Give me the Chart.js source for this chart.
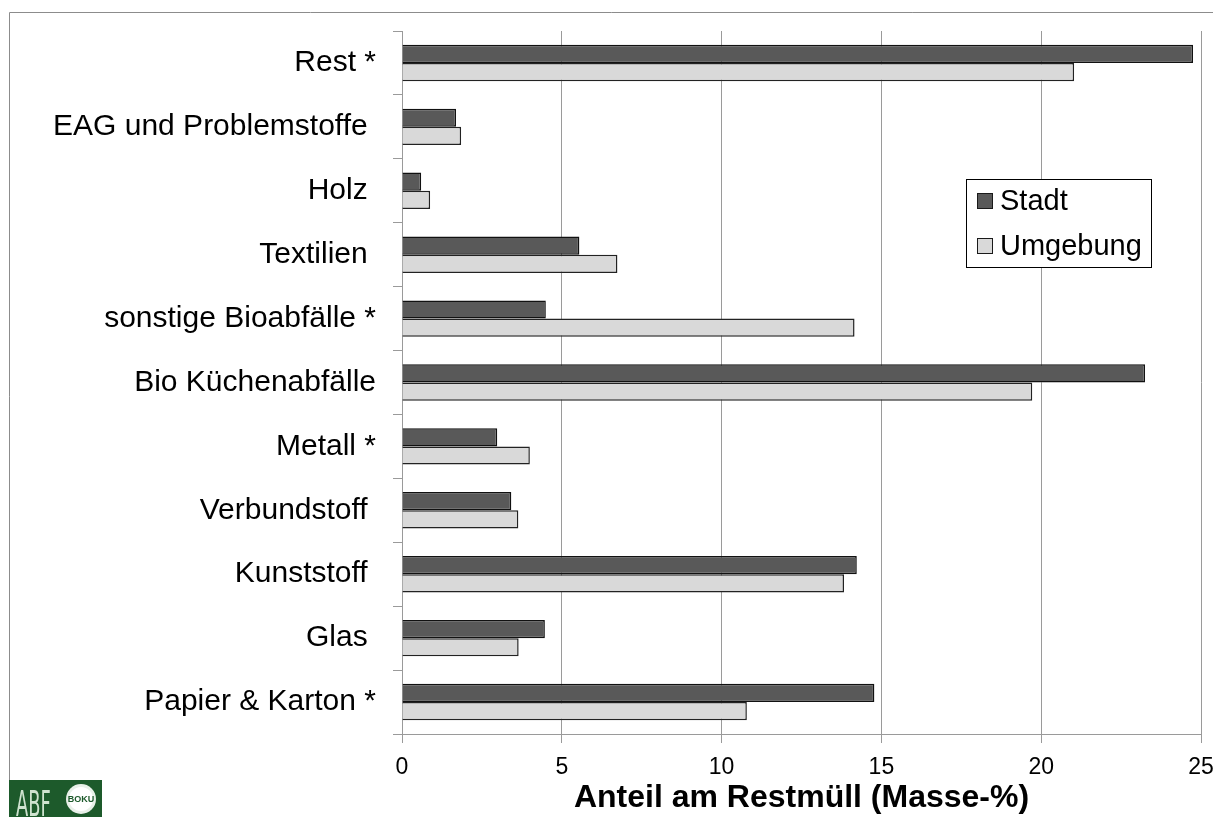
<!DOCTYPE html>
<html lang="de">
<head>
<meta charset="utf-8">
<title>Anteil am Restmüll</title>
<script src="https://cdn.jsdelivr.net/npm/chart.js@4.4.1/dist/chart.umd.min.js"></script>
<style>
    html, body { margin: 0; padding: 0; background: #ffffff; }
    #wrap { width: 1213px; height: 817px; }
</style>
</head>
<body>
<div id="wrap"><canvas id="chartRestmuell" width="1213" height="817"></canvas></div>
<script>
// ===== Daten =====
const kategorien = [
    'Rest *',
    'EAG und Problemstoffe ',
    'Holz ',
    'Textilien ',
    'sonstige Bioabfälle *',
    'Bio Küchenabfälle',
    'Metall *',
    'Verbundstoff ',
    'Kunststoff ',
    'Glas ',
    'Papier & Karton *'
];
const werteStadt    = [24.75, 1.69, 0.6, 5.55, 4.5, 23.25, 2.98, 3.42, 14.23, 4.47, 14.78];
const werteUmgebung = [21.03, 1.85, 0.88, 6.74, 14.16, 19.72, 4.0, 3.64, 13.83, 3.65, 10.79];
const serienNamen   = ['Stadt', 'Umgebung'];
const achsenTitel   = 'Anteil am Restmüll (Masse-%)';
const xTicks        = [0, 5, 10, 15, 20, 25];

const SCHRIFT = '"Liberation Sans", Arial, sans-serif';
const GRAU = '#9a9a9a';

let chartRestmuell;

// Rahmen, Legende und Logo zeichnen
const extrasPlugin = {
    id: 'extras',
    afterDraw(chart) {
        const ctx = chart.ctx;
        ctx.save();

        // Rahmen links und oben
        ctx.strokeStyle = '#8c8c8c';
        ctx.lineWidth = 1;
        ctx.beginPath();
        ctx.moveTo(9.5, 780);
        ctx.lineTo(9.5, 12.5);
        ctx.lineTo(1213, 12.5);
        ctx.stroke();

        // Legende
        const lx = 966.5, ly = 179.5, lw = 185, lh = 88;
        ctx.fillStyle = '#ffffff';
        ctx.fillRect(lx, ly, lw, lh);
        ctx.strokeStyle = '#000000';
        ctx.strokeRect(lx, ly, lw, lh);
        const zeilen = [201, 246];
        chart.data.datasets.forEach(function(ds, i) {
            const cy = zeilen[i];
            ctx.fillStyle = ds.backgroundColor;
            ctx.fillRect(977, cy - 8, 15, 15);
            ctx.strokeStyle = '#1a1a1a';
            ctx.strokeRect(977.5, cy - 7.5, 15, 15);
            ctx.fillStyle = '#000000';
            ctx.font = '29px ' + SCHRIFT;
            ctx.textAlign = 'left';
            ctx.textBaseline = 'middle';
            ctx.fillText(ds.label, 1000, cy + 1);
        });

        // Logo unten links
        ctx.fillStyle = '#1d5a2b';
        ctx.fillRect(9, 780, 93, 37);
        ctx.fillStyle = '#cfe3cf';
        ctx.font = '36px "DejaVu Sans Condensed", ' + SCHRIFT;
        ctx.textAlign = 'left';
        ctx.textBaseline = 'alphabetic';
        ctx.save();
        ctx.translate(16, 816);
        ctx.scale(0.55, 1);
        ctx.fillText('ABF', 0, 0);
        ctx.restore();
        ctx.beginPath();
        ctx.arc(81, 799, 15, 0, Math.PI * 2);
        ctx.fillStyle = '#e8f0e8';
        ctx.fill();
        ctx.beginPath();
        ctx.arc(81, 799, 12, 0, Math.PI * 2);
        ctx.fillStyle = '#ffffff';
        ctx.fill();
        ctx.fillStyle = '#1d5a2b';
        ctx.font = 'bold 9px ' + SCHRIFT;
        ctx.textAlign = 'center';
        ctx.textBaseline = 'middle';
        ctx.fillText('BOKU', 81, 800);

        ctx.restore();
    }
};

function inicializarGrafico() {
    const ctx = document.getElementById('chartRestmuell');
    chartRestmuell = new Chart(ctx, {
        type: 'bar',
        data: {
            labels: kategorien,
            datasets: [{
                label: serienNamen[0],
                data: werteStadt,
                backgroundColor: '#595959',
                borderColor: '#111111',
                borderWidth: 1.5,
                barPercentage: 1.0,
                categoryPercentage: 0.57
            }, {
                label: serienNamen[1],
                data: werteUmgebung,
                backgroundColor: '#d9d9d9',
                borderColor: '#222222',
                borderWidth: 1.5,
                barPercentage: 1.0,
                categoryPercentage: 0.57
            }]
        },
        options: {
            indexAxis: 'y',
            responsive: false,
            animation: false,
            layout: {
                padding: { left: 0, top: 31, right: 12, bottom: 0 }
            },
            plugins: {
                legend: { display: false },
                tooltip: { enabled: false }
            },
            scales: {
                x: {
                    min: xTicks[0],
                    max: xTicks[xTicks.length - 1],
                    afterBuildTicks: function(scale) {
                        scale.ticks = xTicks.map(function(v) { return { value: v }; });
                    },
                    afterFit: function(scale) {
                        scale.height = 83;
                        scale.paddingLeft = 0;
                        scale.paddingRight = 0;
                    },
                    grid: {
                        color: GRAU,
                        lineWidth: 1,
                        tickLength: 9,
                        drawOnChartArea: true
                    },
                    border: { color: GRAU, width: 1 },
                    ticks: {
                        color: '#000000',
                        padding: 11,
                        font: { family: SCHRIFT, size: 23 }
                    },
                    title: {
                        display: true,
                        text: achsenTitel,
                        color: '#000000',
                        padding: { top: 0, bottom: 0 },
                        font: { family: SCHRIFT, size: 32, weight: 'bold' }
                    }
                },
                y: {
                    afterFit: function(scale) {
                        scale.width = 402;
                        scale.paddingTop = 0;
                        scale.paddingBottom = 0;
                    },
                    grid: {
                        offset: true,
                        color: GRAU,
                        tickLength: 9,
                        drawOnChartArea: false
                    },
                    border: { color: GRAU, width: 1 },
                    ticks: {
                        color: '#000000',
                        padding: 17,
                        font: { family: SCHRIFT, size: 30 }
                    }
                }
            }
        },
        plugins: [extrasPlugin]
    });
}

document.addEventListener('DOMContentLoaded', function() {
    inicializarGrafico();
});
</script>
</body>
</html>
